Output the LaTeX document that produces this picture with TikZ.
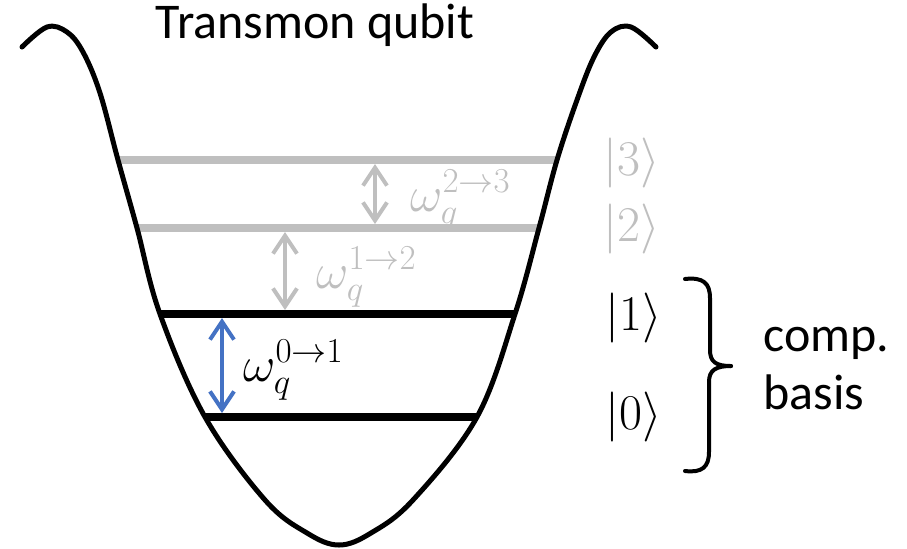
\RequirePackage{fix-cm}
\documentclass[tikz,border=0pt]{standalone}
\usepackage{fontspec}
\setmainfont{Carlito}
\definecolor{lvlgray}{RGB}{191, 191, 191}
\definecolor{qblue}{RGB}{68, 114, 196}
\usetikzlibrary{arrows.meta, calc}
\tikzset{
	well/.style={line width=2.5pt, line join=round, line cap=round},
	complevel/.style={line width=4pt, draw=black},
	higherlevel/.style={line width=4pt, draw=lvlgray},
	transition/.style={{Straight Barb[length=9pt, width=12pt]}-{Straight Barb[length=9pt, width=12pt]}, line width=2pt, draw=qblue},
	softtransition/.style={transition, draw=lvlgray},
	ket/.style={anchor=west, inner sep=0pt, font=\fontsize{25}{29}\selectfont},
	freq/.style={anchor=base west, inner sep=0pt, font=\fontsize{25}{29}\selectfont},
	caption/.style={inner sep=0pt, font=\fontsize{25}{29}\selectfont},
	bracket/.style={line width=2pt, line cap=round, line join=round},
}

\begin{document}
\begin{tikzpicture}[x=0.5pt, y=-0.5pt]
		\useasboundingbox (0,0) rectangle (907,548);
		% energy levels
		\coordinate (l3w) at (118,160); \coordinate (l3e) at (557,160);
		\coordinate (l2w) at (137,228); \coordinate (l2e) at (539,228);
		\coordinate (l1w) at (160,314); \coordinate (l1e) at (515,314);
		\coordinate (l0w) at (205,417); \coordinate (l0e) at (477,417);
		\draw[higherlevel] (l3w) -- (l3e);
		\draw[higherlevel] (l2w) -- (l2e);
		\draw[complevel] (l1w) -- (l1e);
		\draw[complevel] (l0w) -- (l0e);
		% cosine well
		\draw[well] plot[smooth, tension=0.6] coordinates {(22,47) (47,27) (67,32) (83,52) (100,93) (118,160) (137,228) (160,314) (205,417) (265,500) (307,533) (339,545) (371,533) (413,500) (477,417) (515,314) (539,228) (557,160) (577,100) (594,57) (611,32) (631,27) (656,47)};
		\node[caption, anchor=base] (title) at (315,38) {Transmon qubit};
		% transitions
		\coordinate (t23a) at (375,164); \coordinate (t23b) at (375,224);
		\coordinate (t12a) at (285,232); \coordinate (t12b) at (285,310);
		\coordinate (t01a) at (222,318); \coordinate (t01b) at (222,413);
		\draw[softtransition] (t23a) -- (t23b);
		\draw[softtransition] (t12a) -- (t12b);
		\draw[transition] (t01a) -- (t01b);
		\node[freq, text=lvlgray] (w23) at (410,211) {$\omega_q^{2\rightarrow3}$};
		\node[freq, text=lvlgray] (w12) at (316,288) {$\omega_q^{1\rightarrow2}$};
		\node[freq] (w01) at (243,381) {$\omega_q^{0\rightarrow1}$};
		% states
		\node[ket, text=lvlgray] (k3) at (603,163) {$|3\rangle$};
		\node[ket, text=lvlgray] (k2) at (603,229) {$|2\rangle$};
		\node[ket] (k1) at (605,318) {$|1\rangle$};
		\node[ket] (k0) at (605,417) {$|0\rangle$};
		% computational subspace
		\coordinate (btop) at (685,279); \coordinate (btip) at (731,366); \coordinate (bbot) at (685,471);
		\draw[bracket] (btop) .. controls (703,277) and (710,283) .. (710,298) -- (710,350) .. controls (710,362) and (716,366) .. (btip);
		\draw[bracket] (btip) .. controls (716,366) and (709,370) .. (709,382) -- (709,452) .. controls (709,467) and (702,473) .. (bbot);
		\node[caption, align=left, anchor=west] (basis) at (763,369) {comp.\\basis};
	\end{tikzpicture}
\end{document}
